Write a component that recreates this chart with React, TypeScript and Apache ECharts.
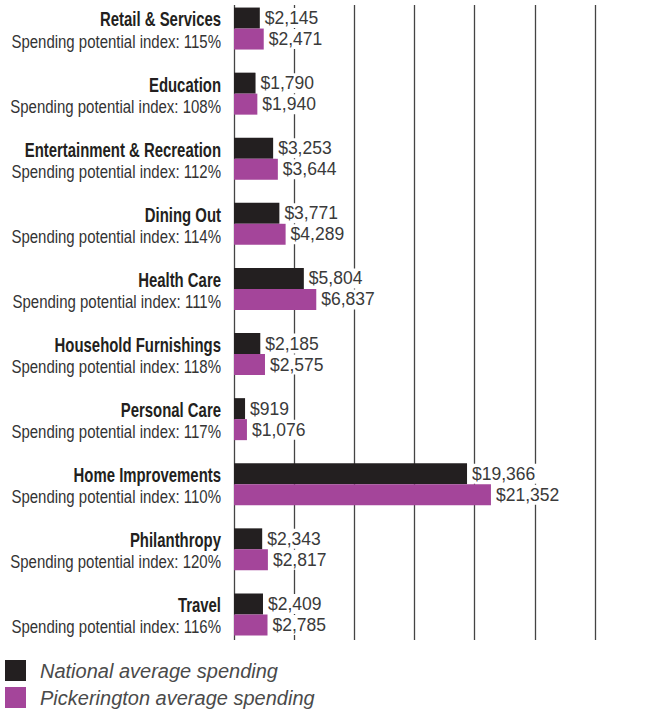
import React, { useEffect, useRef } from "react";
import * as echarts from "echarts";

const categories = [
  "Retail & Services",
  "Education",
  "Entertainment & Recreation",
  "Dining Out",
  "Health Care",
  "Household Furnishings",
  "Personal Care",
  "Home Improvements",
  "Philanthropy",
  "Travel",
];
const spendingIndex = [115, 108, 112, 114, 111, 118, 117, 110, 120, 116];
const nationalSpending = [2145, 1790, 3253, 3771, 5804, 2185, 919, 19366, 2343, 2409];
const pickeringtonSpending = [2471, 1940, 3644, 4289, 6837, 2575, 1076, 21352, 2817, 2785];
const seriesNames = ["National average spending", "Pickerington average spending"];
const axisMax = 30000;
const tickInterval = 5000;

const BLACK = "#231f20";
const PURPLE = "#a4459a";
const SANS = "'Liberation Sans', Arial, sans-serif";

export default function App() {
  const ref = useRef<HTMLDivElement>(null);
  useEffect(() => {
    const chart = echarts.init(ref.current!, null, { renderer: "svg" });
    const fmt = (v: number) => "$" + Number(v).toLocaleString("en-US");
    const valueLabel = {
      show: true,
      position: "right",
      distance: 3,
      formatter: (p: any) => fmt(p.value),
      fontFamily: SANS,
      fontSize: 17.5,
      color: "#3a3a3a",
      backgroundColor: "#fff",
      padding: [1, 2, 1, 2],
    };
    chart.setOption({
      animation: false,
      backgroundColor: "#fff",
      grid: [
        { left: 234, width: 361, top: -4, height: 651, containLabel: false, outerBoundsMode: "none" },
        { left: 234, width: 361, top: 5, height: 635, containLabel: false, outerBoundsMode: "none" },
      ],
      xAxis: [
        { gridIndex: 0, type: "value", min: 0, max: axisMax, interval: tickInterval, show: false },
        {
          gridIndex: 1,
          type: "value",
          min: 0,
          max: axisMax,
          interval: tickInterval,
          axisLine: { show: false },
          axisTick: { show: false },
          axisLabel: { show: false },
          splitLine: { show: true, lineStyle: { color: "#444", width: 1.3 } },
        },
      ],
      yAxis: [
        {
          gridIndex: 0,
          type: "category",
          inverse: true,
          data: categories,
          axisLine: { show: false },
          axisTick: { show: false },
          axisLabel: { show: false },
        },
        { gridIndex: 1, type: "value", show: false },
      ],
      legend: {
        orient: "vertical",
        left: 5,
        top: 660,
        padding: 0,
        itemWidth: 21,
        itemHeight: 21,
        itemGap: 6,
        icon: "rect",
        selectedMode: false,
        data: seriesNames,
        textStyle: {
          fontFamily: SANS,
          fontStyle: "italic",
          fontSize: 20,
          lineHeight: 21,
          color: "#4a4a4a",
          padding: [0, 0, 0, 9],
        },
      },
      series: [
        {
          name: seriesNames[0],
          type: "bar",
          xAxisIndex: 0,
          yAxisIndex: 0,
          data: nationalSpending,
          barWidth: 21,
          barGap: "0%",
          itemStyle: { color: BLACK },
          label: valueLabel,
        },
        {
          name: seriesNames[1],
          type: "bar",
          xAxisIndex: 0,
          yAxisIndex: 0,
          data: pickeringtonSpending,
          barWidth: 21,
          barGap: "0%",
          itemStyle: { color: PURPLE },
          label: valueLabel,
        },
      ],
    });

    // Category labels (condensed look) placed via the axis scales
    const x0 = chart.convertToPixel({ xAxisIndex: 0 }, 0) as number;
    const labelRight = x0 - 13;
    const graphics: any[] = [];
    categories.forEach((name, i) => {
      const yc = chart.convertToPixel({ yAxisIndex: 0 }, i) as number;
      graphics.push({
        type: "text",
        x: labelRight,
        y: yc - 9,
        scaleX: 0.71,
        style: {
          text: name,
          align: "right",
          verticalAlign: "middle",
          font: `bold 21px ${SANS}`,
          fill: "#231f20",
        },
      });
      graphics.push({
        type: "text",
        x: labelRight,
        y: yc + 13,
        scaleX: 0.81,
        style: {
          text: `Spending potential index: ${spendingIndex[i]}%`,
          align: "right",
          verticalAlign: "middle",
          font: `18.5px ${SANS}`,
          fill: "#333",
        },
      });
    });
    chart.setOption({ graphic: graphics });

    return () => chart.dispose();
  }, []);
  return (
    <div
      ref={ref}
      style={{ position: "fixed", left: 0, top: 0, width: 651, height: 713, background: "#fff" }}
    />
  );
}
